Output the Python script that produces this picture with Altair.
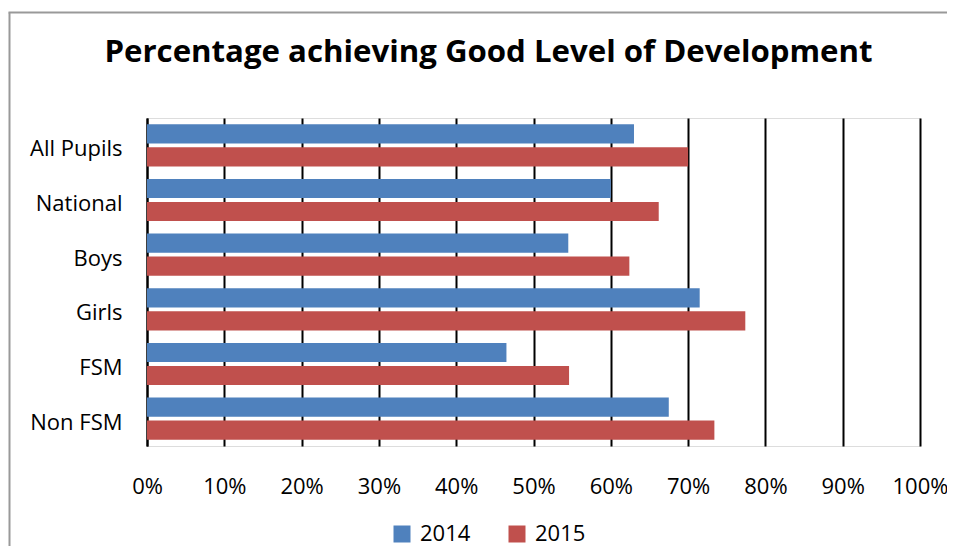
import altair as alt
import pandas as pd

categories = ["All Pupils", "National", "Boys", "Girls", "FSM", "Non FSM"]
years = ["2014", "2015"]
v2014 = [63.0, 60.0, 54.5, 71.5, 46.5, 67.5]
v2015 = [70.0, 66.2, 62.4, 77.4, 54.6, 73.4]
colors = ["#4F81BD", "#C0504D"]
ticks = [0, 0.1, 0.2, 0.3, 0.4, 0.5, 0.6, 0.7, 0.8, 0.9, 1.0]
title_text = "Percentage achieving Good Level of Development"

rows = []
for c, a, b in zip(categories, v2014, v2015):
    rows.append({"group": c, "year": years[0], "value": a / 100})
    rows.append({"group": c, "year": years[1], "value": b / 100})
df = pd.DataFrame(rows)

FONT = "Open Sans"

bars = alt.Chart(df).mark_bar().encode(
    x=alt.X("value:Q",
            scale=alt.Scale(domain=[0, 1], nice=False),
            axis=alt.Axis(values=ticks, format=".0%", title=None, grid=True,
                          gridColor="#000000", gridWidth=2, domain=False,
                          ticks=False, labelFontSize=22, labelFont=FONT,
                          labelColor="#000000", labelPadding=30,
                          labelOverlap=False, labelFlush=False)),
    y=alt.Y("group:N", sort=categories,
            scale=alt.Scale(paddingInner=0.23, paddingOuter=0.115),
            axis=alt.Axis(title=None, grid=False, ticks=False, domain=True,
                          domainColor="#000000", domainWidth=2,
                          labelFontSize=22, labelFont=FONT, labelColor="#000000",
                          labelPadding=25, labelOffset=4)),
    yOffset=alt.YOffset("year:N", sort=years, scale=alt.Scale(paddingInner=0.17)),
    color=alt.Color("year:N", sort=years,
                    scale=alt.Scale(domain=years, range=colors),
                    legend=alt.Legend(title=None, orient="none", direction="horizontal",
                                      legendX=244, legendY=405, symbolType="square",
                                      symbolSize=289, symbolStrokeWidth=0,
                                      labelFontSize=22, labelFont=FONT,
                                      labelColor="#000000", labelOffset=7,
                                      columnPadding=35, padding=0)),
)

one = alt.Data(values=[{"t": title_text}])
title_mark = alt.Chart(one).mark_text(
    font=FONT, fontSize=31.2, fontWeight="bold", color="#000000",
    align="center", baseline="alphabetic", clip=False
).encode(text="t:N", x=alt.value(341.5), y=alt.value(-56))

left_line = alt.Chart(one).mark_rule(color="#999999", strokeWidth=2, clip=False).encode(
    x=alt.value(-137.5), y=alt.value(-105.5), y2=alt.value(460))
top_line = alt.Chart(one).mark_rule(color="#999999", strokeWidth=2, clip=False).encode(
    x=alt.value(-138.5), x2=alt.value(830), y=alt.value(-105.5))

chart = alt.layer(bars, title_mark, left_line, top_line).properties(
    width=773, height=328,
    autosize=alt.AutoSizeParams(type="none"),
    padding={"left": 139, "top": 110, "right": 27, "bottom": 100},
).configure_view(stroke=None).configure(background="#ffffff")

chart.save("out.html", embed_options={"renderer": "svg", "actions": False})
